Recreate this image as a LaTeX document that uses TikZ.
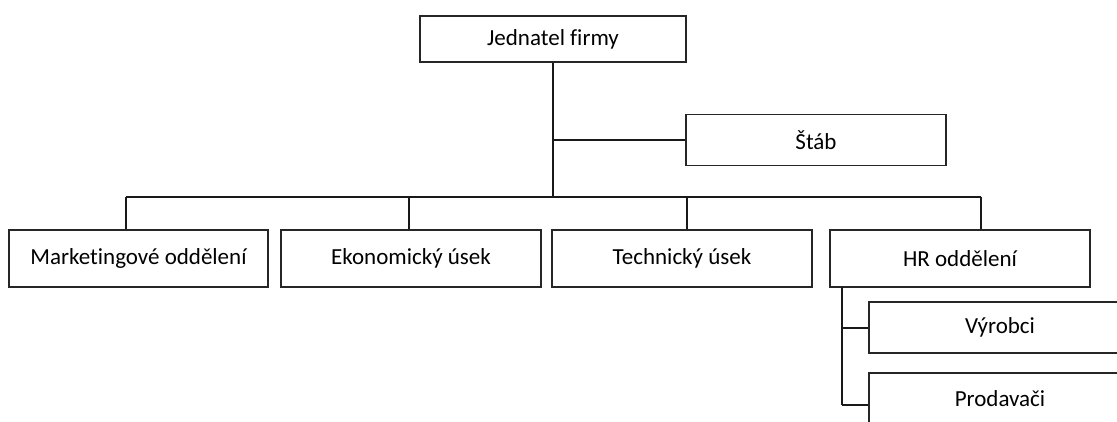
\documentclass[tikz,border=0pt]{standalone}
\usepackage{fontspec}
\setmainfont[Ligatures=NoCommon]{Carlito}
\begin{document}
\begin{tikzpicture}[x=1pt,y=-1pt,
  unit/.style={draw=black!85, line width=1.3pt, fill=white, inner sep=0pt,
    minimum width=260pt, minimum height=51pt, font=\fontsize{23}{26}\selectfont},
  conn/.style={draw=black!90, line width=1.3pt}]
\useasboundingbox (0,0) rectangle (1117,422);
\clip (0,0) rectangle (1117,422);
\fill[white] (0,0) rectangle (1117,422);
% boxes
\node[unit, minimum width=266pt, minimum height=46pt] (jed) at (553,39) {Jednatel firmy};
\node[unit] (stab) at (816,140) {Štáb};
\node[unit, minimum width=259pt, minimum height=57pt] (mkt) at (138.5,258.5) {Marketingové oddělení};
\node[unit, minimum height=57pt] (eko) at (411,258.5) {Ekonomický úsek};
\node[unit, minimum height=57pt] (tech) at (682,258.5) {Technický úsek};
\node[unit, minimum height=57pt] (hr) at (960,258.5) {HR oddělení};
\node[unit, minimum width=262pt] (vyr) at (1000,327.5) {Výrobci};
\node[unit, minimum width=262pt] (prod) at (1000,398.5) {Prodavači};
% bus coordinates
\coordinate (b1) at (126,197);
\coordinate (b2) at (409,197);
\coordinate (b3) at (687,197);
\coordinate (b4) at (981,197);
\coordinate (h1) at (842,287);
\coordinate (h2) at (842,328);
\coordinate (h3) at (842,405);
% connectors
\draw[conn] (jed.south) -- (jed.south |- b1);
\draw[conn] (jed.south |- stab.west) -- (stab.west);
\draw[conn] (b1) -- (b4);
\draw[conn] (b1) -- (b1 |- mkt.north);
\draw[conn] (b2) -- (b2 |- eko.north);
\draw[conn] (b3) -- (b3 |- tech.north);
\draw[conn] (b4) -- (b4 |- hr.north);
\draw[conn] (h1) -- (h3);
\draw[conn] (h2) -- (h2 -| vyr.west);
\draw[conn] (h3) -- (h3 -| prod.west);
\end{tikzpicture}
\end{document}
